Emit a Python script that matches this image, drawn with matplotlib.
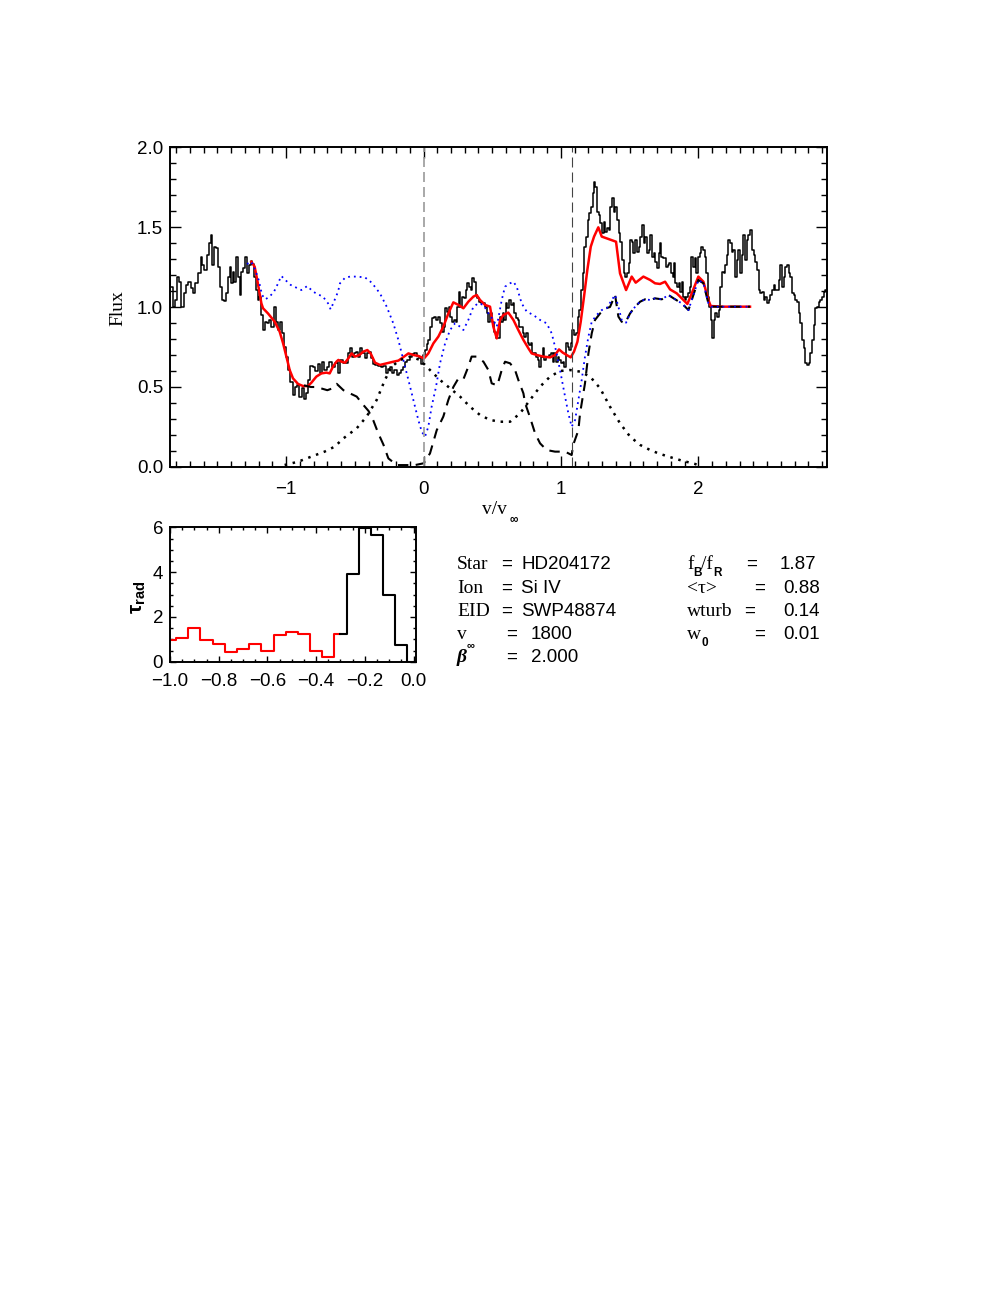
import numpy as np
import matplotlib
matplotlib.use('Agg')
from matplotlib import pyplot as plt
from matplotlib.ticker import MultipleLocator

# valores (v/v_inf, flujo normalizado)
obs_pts = [(-1.852, 1.221), (-1.835, 1.127), (-1.818, 1.002), (-1.799, 1.044), (-1.787, 1.190), (-1.770, 1.158),
           (-1.755, 1.002), (-1.738, 1.085), (-1.719, 1.138), (-1.702, 1.158), (-1.685, 1.117), (-1.670, 1.085),
           (-1.653, 1.148), (-1.629, 1.210), (-1.617, 1.315), (-1.602, 1.263), (-1.588, 1.231), (-1.569, 1.325),
           (-1.554, 1.398), (-1.544, 1.450), (-1.530, 1.263), (-1.515, 1.377), (-1.501, 1.367), (-1.488, 1.252),
           (-1.476, 1.127), (-1.459, 1.044), (-1.442, 1.040), (-1.428, 1.085), (-1.418, 1.190), (-1.406, 1.252),
           (-1.394, 1.148), (-1.382, 1.221), (-1.370, 1.158), (-1.357, 1.315), (-1.345, 1.190), (-1.333, 1.075),
           (-1.321, 1.221), (-1.306, 1.242), (-1.292, 1.315), (-1.277, 1.210), (-1.265, 1.263), (-1.253, 1.290),
           (-1.239, 1.269), (-1.224, 1.190), (-1.212, 1.106), (-1.200, 1.044), (-1.188, 1.065), (-1.175, 0.950),
           (-1.163, 0.856), (-1.149, 0.908), (-1.132, 0.902), (-1.115, 0.919), (-1.098, 0.877), (-1.083, 1.002),
           (-1.069, 0.908), (-1.054, 0.856), (-1.040, 0.908), (-1.025, 0.835), (-1.011, 0.752), (-0.994, 0.690),
           (-0.977, 0.606), (-0.962, 0.533), (-0.945, 0.450), (-0.928, 0.502), (-0.913, 0.513), (-0.896, 0.440),
           (-0.880, 0.492), (-0.865, 0.423), (-0.850, 0.460), (-0.836, 0.544), (-0.816, 0.631), (-0.797, 0.627),
           (-0.780, 0.602), (-0.763, 0.644), (-0.749, 0.590), (-0.732, 0.658), (-0.715, 0.606), (-0.695, 0.627),
           (-0.676, 0.658), (-0.659, 0.627), (-0.634, 0.648),
           (-0.627, 0.658), (-0.613, 0.585), (-0.596, 0.669), (-0.579, 0.652), (-0.559, 0.648), (-0.542, 0.710),
           (-0.528, 0.742), (-0.516, 0.690), (-0.499, 0.710), (-0.482, 0.721), (-0.467, 0.690), (-0.452, 0.742),
           (-0.438, 0.710), (-0.421, 0.679), (-0.406, 0.715), (-0.392, 0.721), (-0.377, 0.679), (-0.360, 0.644),
           (-0.341, 0.638), (-0.321, 0.631), (-0.302, 0.623), (-0.283, 0.631), (-0.268, 0.585), (-0.251, 0.610),
           (-0.234, 0.627), (-0.220, 0.585), (-0.203, 0.606), (-0.186, 0.575), (-0.171, 0.585), (-0.156, 0.606),
           (-0.142, 0.627), (-0.127, 0.658), (-0.110, 0.669), (-0.093, 0.690), (-0.076, 0.706), (-0.059, 0.710),
           (-0.042, 0.694), (-0.025, 0.679), (-0.011, 0.644), (0.004, 0.700), (0.016, 0.731), (0.028, 0.769),
           (0.040, 0.794), (0.052, 0.877), (0.067, 0.929), (0.084, 0.940), (0.098, 0.919), (0.113, 0.940),
           (0.127, 0.902), (0.139, 0.846), (0.152, 0.877), (0.164, 0.992), (0.176, 0.971), (0.188, 1.002),
           (0.200, 0.940), (0.212, 0.908), (0.227, 0.919), (0.239, 0.908), (0.251, 1.002), (0.263, 1.096),
           (0.275, 1.002), (0.287, 1.065), (0.300, 1.054), (0.312, 1.106), (0.324, 1.148), (0.336, 1.127),
           (0.348, 1.106), (0.360, 1.179), (0.372, 1.158), (0.385, 1.075), (0.397, 1.054), (0.411, 1.033),
           (0.426, 1.023), (0.440, 1.023), (0.452, 1.002), (0.465, 0.960), (0.477, 0.908), (0.489, 0.960),
           (0.506, 0.908), (0.520, 0.846), (0.535, 0.804), (0.549, 0.804),
           (0.557, 0.940), (0.569, 0.908), (0.581, 0.960), (0.593, 0.919), (0.605, 1.023), (0.617, 0.992),
           (0.630, 1.044), (0.642, 1.013), (0.654, 1.023), (0.666, 0.960), (0.678, 0.929), (0.690, 0.919),
           (0.702, 0.877), (0.714, 0.877), (0.727, 0.835), (0.739, 0.815), (0.751, 0.835), (0.763, 0.773),
           (0.775, 0.763), (0.787, 0.773), (0.799, 0.710), (0.812, 0.710), (0.824, 0.690), (0.836, 0.669),
           (0.848, 0.627), (0.860, 0.690), (0.872, 0.742), (0.884, 0.669), (0.896, 0.690), (0.909, 0.690),
           (0.921, 0.700), (0.933, 0.710), (0.945, 0.658), (0.957, 0.710), (0.969, 0.658), (0.981, 0.690),
           (0.993, 0.669), (1.006, 0.648), (1.018, 0.658), (1.030, 0.627), (1.042, 0.773), (1.054, 0.752),
           (1.066, 0.731), (1.078, 0.773), (1.090, 0.856), (1.103, 0.825), (1.115, 0.835), (1.127, 0.940),
           (1.139, 0.981), (1.151, 1.106), (1.163, 1.210), (1.175, 1.377), (1.188, 1.440), (1.200, 1.544),
           (1.212, 1.585), (1.224, 1.627), (1.236, 1.710), (1.243, 1.783), (1.255, 1.752), (1.268, 1.596),
           (1.280, 1.575), (1.292, 1.523), (1.304, 1.460), (1.316, 1.533), (1.328, 1.471), (1.340, 1.492),
           (1.353, 1.481), (1.365, 1.627), (1.377, 1.679), (1.389, 1.596), (1.401, 1.627), (1.413, 1.544),
           (1.425, 1.460), (1.437, 1.408), (1.450, 1.294), (1.462, 1.210), (1.474, 1.190), (1.486, 1.210),
           (1.498, 1.273), (1.510, 1.419), (1.522, 1.408), (1.534, 1.335), (1.547, 1.419), (1.559, 1.346),
           (1.571, 1.377), (1.583, 1.440), (1.595, 1.513), (1.607, 1.398), (1.619, 1.440), (1.632, 1.335),
           (1.644, 1.356), (1.656, 1.450), (1.668, 1.315), (1.680, 1.335), (1.692, 1.283), (1.704, 1.242),
           (1.716, 1.335),
           (1.721, 1.398), (1.734, 1.315), (1.746, 1.304), (1.758, 1.304), (1.770, 1.252), (1.782, 1.263),
           (1.794, 1.273), (1.806, 1.210), (1.818, 1.190), (1.831, 1.273), (1.835, 1.148), (1.850, 1.127),
           (1.862, 1.148), (1.874, 1.096), (1.884, 1.158), (1.894, 1.065), (1.906, 1.044), (1.918, 1.065),
           (1.930, 1.085), (1.942, 1.127), (1.954, 1.315), (1.966, 1.252), (1.979, 1.304), (1.991, 1.210),
           (2.003, 1.315), (2.015, 1.335), (2.027, 1.377), (2.039, 1.356), (2.051, 1.315), (2.063, 1.210),
           (2.073, 1.065), (2.088, 1.002), (2.100, 0.919), (2.105, 0.804), (2.117, 0.919), (2.129, 0.960),
           (2.141, 0.940), (2.153, 0.981), (2.163, 1.127), (2.177, 1.221), (2.190, 1.210), (2.202, 1.263),
           (2.214, 1.325), (2.224, 1.419), (2.236, 1.398), (2.248, 1.346), (2.260, 1.356), (2.272, 1.190),
           (2.284, 1.294), (2.296, 1.356), (2.309, 1.210), (2.321, 1.325), (2.333, 1.450), (2.345, 1.294),
           (2.357, 1.419), (2.372, 1.450), (2.384, 1.481), (2.396, 1.356), (2.408, 1.325), (2.420, 1.283),
           (2.432, 1.231), (2.444, 1.106), (2.456, 1.085), (2.469, 1.096), (2.481, 1.044), (2.493, 1.065),
           (2.505, 1.023), (2.517, 1.044), (2.529, 1.075), (2.541, 1.106), (2.554, 1.138), (2.566, 1.106),
           (2.578, 1.106), (2.590, 1.169), (2.602, 1.263), (2.614, 1.127), (2.626, 1.190), (2.638, 1.252),
           (2.651, 1.263), (2.663, 1.210), (2.675, 1.190), (2.687, 1.085), (2.699, 1.075), (2.711, 1.044),
           (2.723, 1.033), (2.735, 0.960), (2.748, 0.898), (2.760, 0.794), (2.772, 0.742), (2.784, 0.648),
           (2.796, 0.638), (2.808, 0.648), (2.820, 0.710), (2.832, 0.794), (2.845, 0.888), (2.857, 0.992),
           (2.869, 1.002), (2.881, 1.033), (2.893, 1.044), (2.905, 1.065), (2.917, 1.096), (2.930, 1.106)]

# modelo ajustado (rojo)
model_pts = [(-1.253, 1.283), (-1.229, 1.252), (-1.210, 1.169), (-1.180, 1.023), (-1.168, 0.992), (-1.132, 0.960),
             (-1.083, 0.908), (-1.047, 0.846), (-1.022, 0.773), (-0.998, 0.690), (-0.974, 0.606), (-0.950, 0.554),
             (-0.913, 0.519), (-0.877, 0.506), (-0.841, 0.506), (-0.816, 0.527), (-0.780, 0.565), (-0.743, 0.585),
             (-0.707, 0.590), (-0.683, 0.585), (-0.659, 0.627), (-0.634, 0.658), (-0.620, 0.669), (-0.596, 0.658),
             (-0.571, 0.652), (-0.547, 0.679), (-0.523, 0.710), (-0.499, 0.690), (-0.467, 0.700), (-0.438, 0.721),
             (-0.409, 0.731), (-0.385, 0.710), (-0.353, 0.652), (-0.317, 0.638), (-0.268, 0.648), (-0.220, 0.658),
             (-0.183, 0.665), (-0.159, 0.679), (-0.110, 0.710), (-0.074, 0.700), (-0.038, 0.694), (0.004, 0.679),
             (0.035, 0.710), (0.072, 0.773), (0.108, 0.815), (0.144, 0.877), (0.181, 0.960), (0.217, 1.029),
             (0.254, 1.013), (0.290, 0.992), (0.326, 1.033), (0.363, 1.065), (0.387, 1.075), (0.411, 1.044),
             (0.448, 1.013), (0.484, 1.002), (0.508, 0.877), (0.533, 0.804), (0.557, 0.919), (0.581, 0.950),
             (0.617, 0.965), (0.654, 0.919), (0.690, 0.856), (0.727, 0.794), (0.763, 0.742), (0.787, 0.710),
             (0.824, 0.700), (0.872, 0.690), (0.921, 0.685), (0.957, 0.700), (0.986, 0.735), (1.013, 0.715),
             (1.042, 0.700), (1.071, 0.685), (1.095, 0.721), (1.120, 0.783), (1.144, 0.908), (1.168, 1.065),
             (1.192, 1.231), (1.217, 1.377), (1.241, 1.440), (1.272, 1.498), (1.297, 1.440), (1.333, 1.429),
             (1.401, 1.408), (1.430, 1.210), (1.474, 1.106), (1.515, 1.190), (1.544, 1.152), (1.600, 1.190),
             (1.649, 1.169), (1.685, 1.148), (1.721, 1.144), (1.758, 1.158), (1.794, 1.110), (1.843, 1.085),
             (1.891, 1.044), (1.920, 1.019), (1.952, 1.085), (2.000, 1.190), (2.037, 1.158), (2.073, 1.044),
             (2.090, 1.006), (2.170, 1.002), (2.376, 1.002)]

# perfil sin emision (azul punteado)
noemis_v = [-1.285, -1.253, -1.224, -1.200, -1.175, -1.151, -1.120, -1.088, -1.064, -1.035, -1.006, -0.967,
            -0.926, -0.889, -0.846, -0.804, -0.768, -0.732, -0.695, -0.676, -0.647, -0.622, -0.608, -0.571,
            -0.535, -0.486, -0.426, -0.377, -0.317, -0.268, -0.220, -0.183, -0.147, -0.110, -0.074, -0.038,
            -0.013, 0.011, 0.035, 0.059, 0.091, 0.120, 0.157, 0.193, 0.229, 0.266, 0.290, 0.326, 0.363, 0.399,
            0.436, 0.472, 0.508, 0.533, 0.569, 0.593, 0.630, 0.654, 0.678, 0.714, 0.751, 0.799, 0.848, 0.896,
            0.933, 0.969, 0.998, 1.030, 1.054, 1.078, 1.103, 1.127, 1.151, 1.175, 1.200, 1.224, 1.260, 1.297,
            1.333, 1.370, 1.394, 1.418, 1.442, 1.474, 1.503, 1.540, 1.576, 1.612, 1.649, 1.685, 1.734, 1.782,
            1.831, 1.879, 1.928, 1.964, 2.000, 2.037, 2.073, 2.093, 2.376]
noemis_f = [1.269, 1.283, 1.231, 1.169, 1.075, 1.048, 1.065, 1.096, 1.138, 1.194, 1.169, 1.138, 1.121, 1.106,
            1.131, 1.096, 1.079, 1.065, 1.023, 0.985, 1.044, 1.096, 1.148, 1.183, 1.190, 1.190, 1.185, 1.152,
            1.085, 1.002, 0.898, 0.794, 0.669, 0.544, 0.419, 0.294, 0.221, 0.190, 0.252, 0.377, 0.502, 0.648,
            0.773, 0.856, 0.898, 0.877, 0.856, 0.919, 1.002, 1.023, 1.013, 0.960, 0.919, 0.877, 1.044, 1.127,
            1.148, 1.158, 1.127, 1.023, 0.971, 0.950, 0.919, 0.898, 0.835, 0.710, 0.585, 0.440, 0.335, 0.252,
            0.294, 0.419, 0.544, 0.690, 0.815, 0.908, 0.950, 0.981, 0.992, 1.044, 1.075, 1.002, 0.919, 0.902,
            0.960, 1.002, 1.033, 1.048, 1.044, 1.054, 1.048, 1.075, 1.048, 1.023, 0.981, 1.075, 1.169, 1.148,
            1.023, 1.002, 1.002]

# absorcion (negro a trazos)
absor_v = [-0.87, -0.82, -0.78, -0.74, -0.70, -0.668, -0.632, -0.583, -0.535, -0.486, -0.45, -0.40, -0.365,
           -0.329, -0.292, -0.256, -0.195, -0.135, -0.062, 0.0, 0.047, 0.096, 0.144, 0.181, 0.217, 0.254, 0.290,
           0.326, 0.350, 0.387, 0.436, 0.472, 0.496, 0.537, 0.569, 0.593, 0.630, 0.666, 0.690, 0.727, 0.739,
           0.775, 0.812, 0.848, 0.896, 0.957, 1.030, 1.078, 1.090, 1.127, 1.139, 1.175, 1.200, 1.224, 1.248,
           1.285, 1.321, 1.357, 1.394, 1.418, 1.442, 1.466, 1.503, 1.540, 1.576, 1.612, 1.649, 1.685, 1.734,
           1.782, 1.831, 1.879, 1.928, 1.964, 2.000, 2.037, 2.073, 2.093, 2.376]
absor_f = [0.51, 0.50, 0.50, 0.49, 0.48, 0.49, 0.52, 0.48, 0.46, 0.44, 0.40, 0.35, 0.29, 0.21, 0.14, 0.054,
           0.012, 0.012, 0.012, 0.023, 0.085, 0.23, 0.315, 0.42, 0.50, 0.554, 0.548, 0.627, 0.69, 0.69, 0.658,
           0.606, 0.523, 0.51, 0.606, 0.658, 0.648, 0.606, 0.544, 0.46, 0.40, 0.31, 0.21, 0.148, 0.106, 0.096,
           0.096, 0.075, 0.14, 0.23, 0.335, 0.523, 0.71, 0.835, 0.919, 0.96, 0.99, 1.0, 1.075, 0.94, 0.908,
           0.898, 0.96, 1.002, 1.033, 1.048, 1.044, 1.054, 1.048, 1.075, 1.048, 1.023, 0.981, 1.075, 1.169,
           1.148, 1.023, 1.002, 1.002]

# emision (negro punteado)
emis_v = [-1.011, -0.913, -0.816, -0.720, -0.647, -0.583, -0.486, -0.414, -0.341, -0.281, -0.232, -0.171,
          -0.098, -0.025, 0.047, 0.120, 0.193, 0.266, 0.338, 0.411, 0.484, 0.557, 0.630, 0.702, 0.775, 0.848,
          0.921, 0.993, 1.066, 1.139, 1.212, 1.285, 1.357, 1.430, 1.503, 1.576, 1.649, 1.710, 1.782, 1.879,
          1.976, 2.012]
emis_f = [0.0125, 0.033, 0.065, 0.096, 0.127, 0.179, 0.242, 0.315, 0.419, 0.544, 0.627, 0.669, 0.690, 0.669,
          0.606, 0.544, 0.492, 0.440, 0.377, 0.325, 0.294, 0.283, 0.283, 0.335, 0.419, 0.502, 0.565, 0.600,
          0.606, 0.596, 0.565, 0.492, 0.377, 0.273, 0.190, 0.138, 0.106, 0.085, 0.065, 0.040, 0.019, 0.006]

v_doblete = 1.077   # separacion del doblete Si IV

# tau radial (panel inferior)
tau_v = [-1.00, -0.95, -0.90, -0.85, -0.80, -0.75, -0.70, -0.65, -0.60, -0.55, -0.50,
         -0.45, -0.40, -0.35, -0.30, -0.25, -0.20, -0.15, -0.10, -0.05, 0.00]
tau_val = [0.96, 1.04, 1.51, 0.99, 0.77, 0.43, 0.56, 0.77, 0.50, 1.18, 1.31,
           1.23, 0.46, 0.22, 1.24, 3.90, 5.97, 5.67, 2.98, 0.76, 0.0]
n_rojo = 15

info_izq = ['Star', 'Ion', 'EID', 'v', 'β']
valores_izq = ['HD204172', 'Si IV', 'SWP48874', '1800', '2.000']
info_der = ['f', '<τ>', 'wturb', 'w']
valores_der = ['1.87', '0.88', '0.14', '0.01']

serif = ['Liberation Serif', 'DejaVu Serif']
sans = ['Liberation Sans', 'DejaVu Sans']
plt.rcParams['font.family'] = sans
plt.rcParams['font.size'] = 13.5
plt.rcParams['mathtext.fontset'] = 'custom'
plt.rcParams['mathtext.rm'] = 'Liberation Sans'
plt.rcParams['mathtext.bf'] = 'Liberation Sans:bold'
plt.rcParams['mathtext.it'] = 'Liberation Sans:italic'

W, H = 997.0, 1290.0
fig = plt.figure(figsize=(9.97, 12.9), dpi=100)


def caja(l, t, r, b):
    return [l / W, 1 - b / H, (r - l) / W, (b - t) / H]


def texto(x, y, s, **kw):
    fig.text(x / W, 1 - y / H, s, **kw)


ax = fig.add_axes(caja(170, 147, 826.7, 467))
ax2 = fig.add_axes(caja(170, 527.3, 416, 661.7))

obs = np.array(obs_pts)
mod = np.array(model_pts)
ax.step(obs[:, 0], obs[:, 1], where='mid', color='k', lw=1.1)
ax.plot(mod[:, 0], mod[:, 1], color='red', lw=1.8)
ax.plot(absor_v, absor_f, color='k', lw=1.5, ls=(0, (5, 3.5)))
ax.plot(noemis_v, noemis_f, color='blue', lw=1.3, ls=(0, (1, 2.2)))
ax.plot(emis_v, emis_f, color='k', lw=1.8, ls=(0, (1, 2.3)))
ax.axvline(0, color='#9a9a9a', lw=1.2, ls=(0, (6, 3)))
ax.axvline(v_doblete, color='#444444', lw=0.8, ls=(0, (9, 4.5)))

ax.set_xlim(-1.845, 2.934)
ax.set_ylim(0, 2.0)
ax.xaxis.set_major_locator(MultipleLocator(1))
ax.xaxis.set_minor_locator(MultipleLocator(0.1))
ax.yaxis.set_major_locator(MultipleLocator(0.5))
ax.yaxis.set_minor_locator(MultipleLocator(0.1))
ax.tick_params(which='both', direction='in', top=True, right=True, width=1.0)
ax.tick_params(which='major', length=8)
ax.tick_params(which='minor', length=4.5)
ax.tick_params(axis='x', pad=10)
ax.tick_params(axis='y', pad=5)

ax2.step(tau_v[:n_rojo], tau_val[:n_rojo], where='mid', color='red', lw=1.5)
ax2.step(tau_v[n_rojo - 1:], tau_val[n_rojo - 1:], where='mid', color='k', lw=1.5)
ax2.set_xlim(-1.0, 0.01)
ax2.set_ylim(0, 6.0)
ax2.xaxis.set_major_locator(MultipleLocator(0.2))
ax2.xaxis.set_minor_locator(MultipleLocator(0.05))
ax2.yaxis.set_major_locator(MultipleLocator(2))
ax2.yaxis.set_minor_locator(MultipleLocator(0.5))
ax2.tick_params(which='both', direction='in', top=True, right=True, width=1.0)
ax2.tick_params(which='major', length=4.5)
ax2.tick_params(which='minor', length=2.2)
ax2.tick_params(axis='x', pad=8)
ax2.tick_params(axis='y', pad=5)

for a in (ax, ax2):
    for s in a.spines.values():
        s.set_linewidth(1.4)

# etiquetas de ejes
texto(117.5, 308.5, 'Flux', family=serif, fontsize=14, rotation=90, ha='center', va='center')
texto(494, 510, 'v/v', family=serif, fontsize=14, ha='center', va='center')
texto(510, 523, '∞', family=sans, fontsize=8.5, fontweight='bold', ha='left', va='baseline')
texto(138, 597, r'$\mathbf{\tau}_{\mathbf{rad}}$', fontsize=15, rotation=90, ha='center', va='center')

# bloque de parametros
filas = [569, 593, 616, 639, 662]
eq_izq = [507, 507, 507, 512, 512]
val_izq = [521, 521, 521, 531, 531]
for i in range(5):
    kw = dict(family=serif, fontsize=14, ha='left', va='baseline')
    if info_izq[i] == 'β':
        kw.update(fontstyle='italic', fontweight='bold')
    texto(457, filas[i], info_izq[i], **kw)
    texto(eq_izq[i], filas[i], '=', fontsize=13.5, ha='center', va='baseline')
    texto(val_izq[i], filas[i], valores_izq[i], fontsize=13.5, ha='left', va='baseline')
texto(467, 648, '∞', fontsize=8, fontweight='bold', ha='left', va='baseline')

eq_der = [752, 760, 750, 760]
val_der = [780, 783, 783, 783]
for i in range(4):
    texto(687, filas[i], info_der[i], family=serif, fontsize=14, ha='left', va='baseline')
    texto(eq_der[i], filas[i], '=', fontsize=13.5, ha='center', va='baseline')
    texto(val_der[i], filas[i], valores_der[i], fontsize=13.5, ha='left', va='baseline')
texto(693, 576, 'B', fontsize=8.5, fontweight='bold', ha='left', va='baseline')
texto(701, 569, '/f', family=serif, fontsize=14, ha='left', va='baseline')
texto(713, 576, 'R', fontsize=8.5, fontweight='bold', ha='left', va='baseline')
texto(701, 646, '0', fontsize=8.5, fontweight='bold', ha='left', va='baseline')

fig.savefig('out.png', dpi=100)
